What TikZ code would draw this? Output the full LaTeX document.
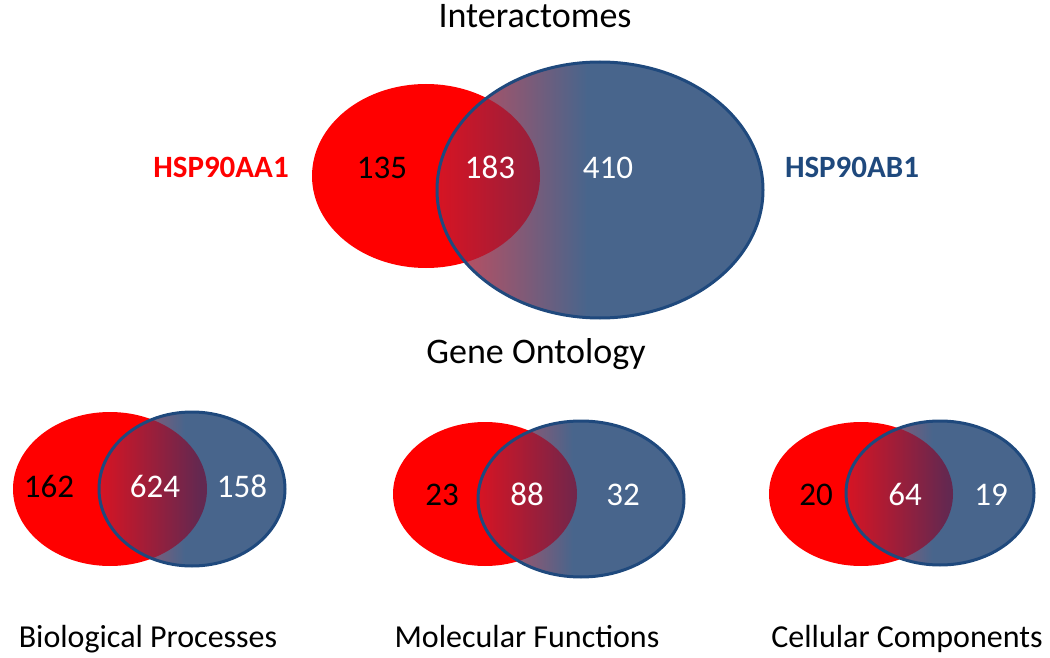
\documentclass[tikz,border=0pt]{standalone}
\usepackage{fontspec}
\setmainfont{Carlito}

\definecolor{vennred}{RGB}{255,0,0}
\definecolor{vennblue}{RGB}{72,101,140}
\definecolor{vennline}{RGB}{31,73,125}
\definecolor{vennpink}{RGB}{205,75,90}
\definecolor{ovleft}{RGB}{215,20,35}
\definecolor{ovright}{RGB}{100,40,80}
\pgfdeclarehorizontalshading{bluegrad}{100bp}{color(0bp)=(vennpink); color(25bp)=(vennpink); color(48bp)=(vennblue); color(100bp)=(vennblue)}
\pgfdeclarehorizontalshading{overgrad}{100bp}{color(0bp)=(ovleft); color(25bp)=(ovleft); color(52bp)=(ovright); color(100bp)=(ovright)}

\begin{document}
\begin{tikzpicture}[x=0.5pt,y=-0.5pt,
  title/.style={anchor=base, font=\fontsize{18}{20}\selectfont},
  setname/.style={anchor=base, font=\fontsize{15.5}{18}\selectfont\bfseries},
  count/.style={anchor=base, font=\fontsize{16.5}{18}\selectfont},
  category/.style={anchor=base, font=\fontsize{16}{18}\selectfont},
  rim/.style={vennline, line width=1.5pt}]
\useasboundingbox (0,0) rectangle (1050,658);

% interactomes
\fill[vennred] (426,176) ellipse [x radius=114, y radius=92];
\shade[shading=bluegrad] (600,190) ellipse [x radius=163, y radius=128];
\begin{scope}
\clip (426,176) ellipse [x radius=114, y radius=92];
\shade[shading=overgrad] (600,190) ellipse [x radius=163, y radius=128];
\end{scope}
\draw[rim] (600,190) ellipse [x radius=163, y radius=128];

\node[title] (inter) at (535,28) {Interactomes};
\node[setname, text=vennred] (aa1) at (221,177) {HSP90AA1};
\node[setname, text=vennline] (ab1) at (852,177) {HSP90AB1};
\node[count, text=black] (n135) at (382,178) {135};
\node[count, text=white] (n183) at (490,178) {183};
\node[count, text=white] (n410) at (608,178) {410};

\node[title] (gene) at (536,363) {Gene Ontology};

% biological processes
\fill[vennred] (110,489) ellipse [x radius=97, y radius=77];
\shade[shading=bluegrad] (192,489) ellipse [x radius=93, y radius=77];
\begin{scope}
\clip (110,489) ellipse [x radius=97, y radius=77];
\shade[shading=overgrad] (192,489) ellipse [x radius=93, y radius=77];
\end{scope}
\draw[rim] (192,489) ellipse [x radius=93, y radius=77];
\node[count, text=black] (n162) at (49,497) {162};
\node[count, text=white] (n624) at (155,497) {624};
\node[count, text=white] (n158) at (242,497) {158};

% molecular functions
\fill[vennred] (485,494) ellipse [x radius=92, y radius=72];
\shade[shading=bluegrad] (581,499) ellipse [x radius=103, y radius=78];
\begin{scope}
\clip (485,494) ellipse [x radius=92, y radius=72];
\shade[shading=overgrad] (581,499) ellipse [x radius=103, y radius=78];
\end{scope}
\draw[rim] (581,499) ellipse [x radius=103, y radius=78];
\node[count, text=black] (n23) at (442,505) {23};
\node[count, text=white] (n88) at (527,505) {88};
\node[count, text=white] (n32) at (623,505) {32};

% cellular components
\fill[vennred] (861,494) ellipse [x radius=92, y radius=72];
\shade[shading=bluegrad] (940,493) ellipse [x radius=94, y radius=72];
\begin{scope}
\clip (861,494) ellipse [x radius=92, y radius=72];
\shade[shading=overgrad] (940,493) ellipse [x radius=94, y radius=72];
\end{scope}
\draw[rim] (940,493) ellipse [x radius=94, y radius=72];
\node[count, text=black] (n20) at (816,505) {20};
\node[count, text=white] (n64) at (905,505) {64};
\node[count, text=white] (n19) at (991,505) {19};

\node[category] (bio) at (148,647) {Biological Processes};
\node[category] (mol) at (527,647) {Molecular Functions};
\node[category] (cell) at (907,647) {Cellular Components};
\end{tikzpicture}
\end{document}
